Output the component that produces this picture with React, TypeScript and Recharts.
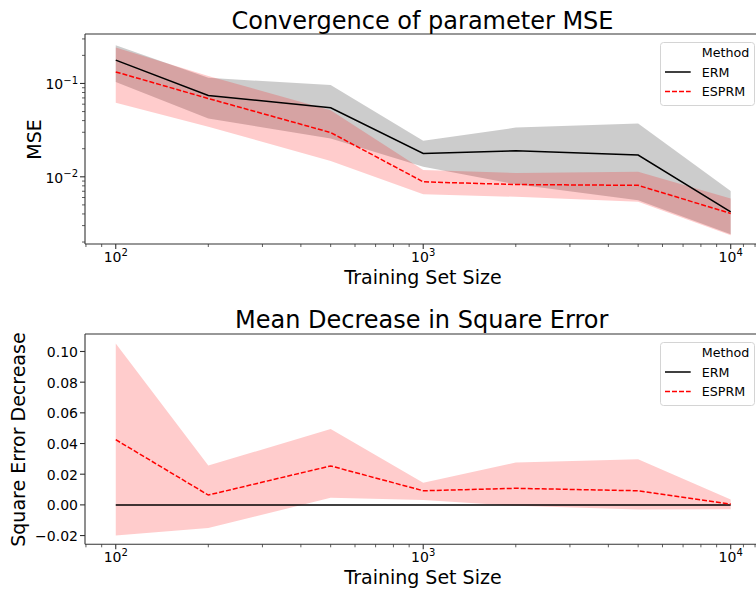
import {
  ComposedChart, Area, Line, XAxis, YAxis, ReferenceLine, Legend,
} from 'recharts';

// training set sizes (log x axis)
const sizes = [100, 200, 500, 1000, 2000, 5000, 10000];

// top panel: parameter MSE (mean + band)
const ermMse = [0.178, 0.0743, 0.0549, 0.0178, 0.019, 0.0171, 0.0042];
const ermMseLo = [0.104, 0.0422, 0.0257, 0.0128, 0.0083, 0.0056, 0.00243];
const ermMseHi = [0.257, 0.115, 0.096, 0.0243, 0.0337, 0.0372, 0.00706];
const esprmMse = [0.133, 0.069, 0.0298, 0.00883, 0.00826, 0.0081, 0.00405];
const esprmMseLo = [0.062, 0.0343, 0.0148, 0.0065, 0.0061, 0.0054, 0.00237];
const esprmMseHi = [0.243, 0.12, 0.0518, 0.0118, 0.011, 0.0113, 0.00585];

// bottom panel: decrease in square error
const ermDec = [0, 0, 0, 0, 0, 0, 0];
const esprmDec = [0.0425, 0.0064, 0.0254, 0.0092, 0.0108, 0.0092, 0.0005];
const esprmDecLo = [-0.0199, -0.0151, 0.0046, 0.0031, -0.0006, -0.003, -0.0028];
const esprmDecHi = [0.1052, 0.0256, 0.0495, 0.0145, 0.0276, 0.0298, 0.0035];

const xMajor = [100, 1000, 10000];
const xMinor = [80, 90, 200, 300, 400, 500, 600, 700, 800, 900,
  2000, 3000, 4000, 5000, 6000, 7000, 8000, 9000, 11000, 12000];
const mseMajor = [0.01, 0.1];
const mseMinor = [0.002, 0.003, 0.004, 0.005, 0.006, 0.007, 0.008, 0.009,
  0.02, 0.03, 0.04, 0.05, 0.06, 0.07, 0.08, 0.09, 0.2, 0.3];
const decTicks = [-0.02, 0, 0.02, 0.04, 0.06, 0.08, 0.1];

const X_DOMAIN: [number, number] = [10 ** 1.9, 10 ** 4.1];
const MSE_DOMAIN: [number, number] = [10 ** -2.72, 10 ** -0.47];
const DEC_DOMAIN: [number, number] = [-0.0257, 0.1114];

const FONT = "'DejaVu Sans', Verdana, sans-serif";
const SPINE = '#333';

const mseData = sizes.map((n, i) => ({
  n,
  erm: ermMse[i],
  ermBand: [ermMseLo[i], ermMseHi[i]],
  esprm: esprmMse[i],
  esprmBand: [esprmMseLo[i], esprmMseHi[i]],
}));

const decData = sizes.map((n, i) => ({
  n,
  erm: ermDec[i],
  esprm: esprmDec[i],
  esprmBand: [esprmDecLo[i], esprmDecHi[i]],
}));

const isMajor = (v: number, majors: number[]) => majors.some(m => Math.abs(m - v) / m < 1e-6);
const expLabel = (e: number) => (e < 0 ? `\u2212${-e}` : `${e}`);

// eslint-disable-next-line @typescript-eslint/no-explicit-any
const XTick = (props: any) => {
  const { x, y, payload } = props;
  const v = payload.value as number;
  const major = isMajor(v, xMajor);
  return (
    <g>
      <line x1={x} x2={x} y1={y} y2={y + (major ? 5 : 3)} stroke={SPINE} strokeWidth={major ? 1.1 : 0.8} />
      {major && (
        <text x={x} y={y + 17.7} textAnchor="middle" fontSize={14} fontFamily={FONT} fill="#000">
          10<tspan dy={-5.7} fontSize={10}>{expLabel(Math.round(Math.log10(v)))}</tspan>
        </text>
      )}
    </g>
  );
};

// eslint-disable-next-line @typescript-eslint/no-explicit-any
const LogYTick = (props: any) => {
  const { x, y, payload } = props;
  const v = payload.value as number;
  const major = isMajor(v, mseMajor);
  return (
    <g>
      <line x1={x} x2={x - (major ? 5 : 3)} y1={y} y2={y} stroke={SPINE} strokeWidth={major ? 1.1 : 0.8} />
      {major && (
        <text x={x - 7} y={y + 6} textAnchor="end" fontSize={14} fontFamily={FONT} fill="#000">
          10<tspan dy={-5.7} fontSize={10}>{expLabel(Math.round(Math.log10(v)))}</tspan>
        </text>
      )}
    </g>
  );
};

// eslint-disable-next-line @typescript-eslint/no-explicit-any
const LinYTick = (props: any) => {
  const { x, y, payload } = props;
  const v = payload.value as number;
  const label = v < -1e-9 ? `\u2212${Math.abs(v).toFixed(2)}` : Math.abs(v).toFixed(2);
  return (
    <g>
      <line x1={x} x2={x - 5} y1={y} y2={y} stroke={SPINE} strokeWidth={1.1} />
      <text x={x - 7} y={y + 5.5} textAnchor="end" fontSize={14} fontFamily={FONT} fill="#000">{label}</text>
    </g>
  );
};

const MethodLegend = () => (
  <svg width={95} height={64} style={{ display: 'block' }}>
    <rect x={0.5} y={0.5} width={94} height={63} rx={3} fill="rgba(255,255,255,0.8)" stroke="#d4d4d4" />
    <g fontFamily={FONT} fontSize={12.7} fill="#000">
      <text x={41.7} y={14.6}>Method</text>
      <line x1={5} x2={30.7} y1={30} y2={30} stroke="#000" strokeWidth={1.5} />
      <text x={41.7} y={34.6}>ERM</text>
      <line x1={5} x2={30.7} y1={49.5} y2={49.5} stroke="red" strokeWidth={1.5} strokeDasharray="5 2" />
      <text x={41.7} y={54.1}>ESPRM</text>
    </g>
  </svg>
);

const legendStyle = { top: 41.7, left: 660, width: 95, height: 64 };

export default function App() {
  return (
    <div style={{ position: 'absolute', left: 0, top: 0, width: 756, height: 593, overflow: 'hidden', background: '#fff' }}>
      <div style={{ position: 'absolute', left: 0, top: 0 }}>
        <ComposedChart width={780} height={300} data={mseData} margin={{ top: 34, right: 18.55, bottom: 0, left: 0 }}>
          <XAxis
            dataKey="n" type="number" scale="log" domain={X_DOMAIN} allowDataOverflow
            ticks={[...xMajor, ...xMinor]} interval={0} tick={<XTick />} tickLine={false}
            tickSize={0} tickMargin={0} height={56} axisLine={{ stroke: SPINE, strokeWidth: 1.1 }}
          />
          <YAxis
            type="number" scale="log" domain={MSE_DOMAIN} allowDataOverflow
            ticks={[...mseMajor, ...mseMinor]} interval={0} tick={<LogYTick />} tickLine={false}
            tickSize={0} tickMargin={0} width={85} axisLine={{ stroke: SPINE, strokeWidth: 1.1 }}
          />
          <ReferenceLine y={MSE_DOMAIN[1]} stroke={SPINE} strokeWidth={1.1} ifOverflow="extendDomain" />
          <Area dataKey="ermBand" type="linear" stroke="none" fill="#000" fillOpacity={0.2} isAnimationActive={false} />
          <Line dataKey="erm" type="linear" stroke="#000" strokeWidth={1.5} dot={false} activeDot={false} isAnimationActive={false} />
          <Area dataKey="esprmBand" type="linear" stroke="none" fill="red" fillOpacity={0.2} isAnimationActive={false} />
          <Line dataKey="esprm" type="linear" stroke="red" strokeWidth={1.5} strokeDasharray="5 2" dot={false} activeDot={false} isAnimationActive={false} />
          <Legend layout="horizontal" verticalAlign="middle" align="center" wrapperStyle={legendStyle} content={() => <MethodLegend />} />
        </ComposedChart>
      </div>
      <div style={{ position: 'absolute', left: 0, top: 300 }}>
        <ComposedChart width={780} height={293} data={decData} margin={{ top: 34, right: 18.55, bottom: 0, left: 0 }}>
          <XAxis
            dataKey="n" type="number" scale="log" domain={X_DOMAIN} allowDataOverflow
            ticks={[...xMajor, ...xMinor]} interval={0} tick={<XTick />} tickLine={false}
            tickSize={0} tickMargin={0} height={48.7} axisLine={{ stroke: SPINE, strokeWidth: 1.1 }}
          />
          <YAxis
            type="number" domain={DEC_DOMAIN} allowDataOverflow
            ticks={decTicks} interval={0} tick={<LinYTick />} tickLine={false}
            tickSize={0} tickMargin={0} width={85} axisLine={{ stroke: SPINE, strokeWidth: 1.1 }}
          />
          <ReferenceLine y={DEC_DOMAIN[1]} stroke={SPINE} strokeWidth={1.1} ifOverflow="extendDomain" />
          <Line dataKey="erm" type="linear" stroke="#000" strokeWidth={1.5} dot={false} activeDot={false} isAnimationActive={false} />
          <Area dataKey="esprmBand" type="linear" stroke="none" fill="red" fillOpacity={0.2} isAnimationActive={false} />
          <Line dataKey="esprm" type="linear" stroke="red" strokeWidth={1.5} strokeDasharray="5 2" dot={false} activeDot={false} isAnimationActive={false} />
          <Legend layout="horizontal" verticalAlign="middle" align="center" wrapperStyle={legendStyle} content={() => <MethodLegend />} />
        </ComposedChart>
      </div>
      <svg width={756} height={593} style={{ position: 'absolute', left: 0, top: 0, pointerEvents: 'none' }}>
        <g fontFamily={FONT} fill="#000" textAnchor="middle">
          <text x={422.5} y={29} fontSize={24}>Convergence of parameter MSE</text>
          <text x={423} y={284} fontSize={19}>Training Set Size</text>
          <text x={40.7} y={139.5} fontSize={19} transform="rotate(-90 40.7 139.5)">MSE</text>
          <text x={421.7} y={328.3} fontSize={24}>Mean Decrease in Square Error</text>
          <text x={423} y={584.3} fontSize={19}>Training Set Size</text>
          <text x={25.3} y={439.6} fontSize={19} transform="rotate(-90 25.3 439.6)">Square Error Decrease</text>
        </g>
      </svg>
    </div>
  );
}
